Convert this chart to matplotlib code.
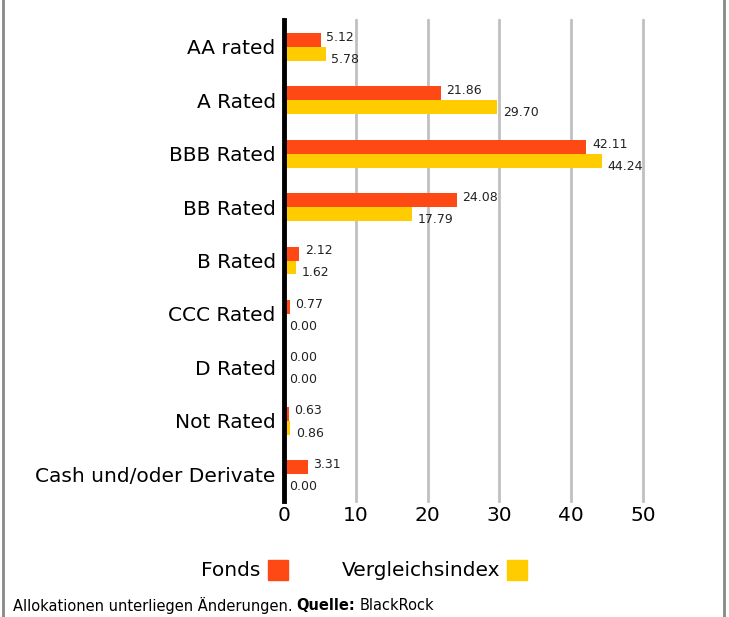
import matplotlib.pyplot as plt
from matplotlib.patches import Rectangle
from matplotlib.lines import Line2D
import numpy as np

# data
categories = ["AA rated", "A Rated", "BBB Rated", "BB Rated", "B Rated",
              "CCC Rated", "D Rated", "Not Rated", "Cash und/oder Derivate"]
fonds = [5.12, 21.86, 42.11, 24.08, 2.12, 0.77, 0.00, 0.63, 3.31]
index = [5.78, 29.70, 44.24, 17.79, 1.62, 0.00, 0.00, 0.86, 0.00]
ticks = [0, 10, 20, 30, 40, 50]

orange = "#FF4915"
yellow = "#FFCC00"

fig = plt.figure(figsize=(7.29, 6.17), dpi=100)
ax = fig.add_axes([284 / 729, 1 - 500.7 / 617, (643 - 284) / 729, (500.7 - 20.3) / 617])

y = np.arange(len(categories))
h = 0.26
ax.barh(y - h / 2, fonds, height=h, color=orange, zorder=3)
ax.barh(y + h / 2, index, height=h, color=yellow, zorder=3)

# value labels
for i in range(len(categories)):
    ax.annotate("%.2f" % fonds[i], (fonds[i], y[i] - h / 2), xytext=(4, 2),
                textcoords="offset points", ha="left", va="center", fontsize=9,
                color="#222222", annotation_clip=False)
    ax.annotate("%.2f" % index[i], (index[i], y[i] + h / 2), xytext=(4, -4),
                textcoords="offset points", ha="left", va="center", fontsize=9,
                color="#222222", annotation_clip=False)

ax.set_xlim(0, 50)
ax.set_ylim(len(categories) - 0.5, -0.5)
ax.set_yticks(y)
ax.set_yticklabels(categories, fontsize=14.5)
ax.set_xticks(ticks)
ax.set_xticklabels([str(t) for t in ticks], fontsize=14.5)
ax.tick_params(axis="both", length=0, pad=6)
ax.tick_params(axis="x", pad=4)

ax.grid(axis="x", color="#c0c0c0", linewidth=2, zorder=0)
for gl in ax.get_xgridlines():
    gl.set_clip_on(False)
for s in ["top", "right", "bottom"]:
    ax.spines[s].set_visible(False)
ax.spines["left"].set_linewidth(3.5)
ax.spines["left"].set_color("black")
ax.spines["left"].set_zorder(4)

# legend drawn by hand
fig.text(260 / 729, 1 - 571 / 617, "Fonds", ha="right", va="center", fontsize=14.5)
fig.patches.append(Rectangle((268 / 729, 1 - 580 / 617), 20 / 729, 20 / 617,
                             color=orange, transform=fig.transFigure))
fig.text(500 / 729, 1 - 571 / 617, "Vergleichsindex", ha="right", va="center", fontsize=14.5)
fig.patches.append(Rectangle((507 / 729, 1 - 580 / 617), 20 / 729, 20 / 617,
                             color=yellow, transform=fig.transFigure))

# footer: normal text, then bold "Quelle:", then normal again
renderer = fig.canvas.get_renderer()
x0 = 13 / 729
yf = 1 - 605 / 617
t1 = fig.text(x0, yf, "Allokationen unterliegen Änderungen.", ha="left", va="center", fontsize=10.5)
x1 = fig.transFigure.inverted().transform((t1.get_window_extent(renderer).x1 + 4, 0))[0]
t2 = fig.text(x1, yf, "Quelle:", ha="left", va="center", fontsize=10.5, fontweight="bold")
x2 = fig.transFigure.inverted().transform((t2.get_window_extent(renderer).x1 + 4, 0))[0]
fig.text(x2, yf, "BlackRock", ha="left", va="center", fontsize=10.5)

# frame lines
fig.lines.append(Line2D([3 / 729, 3 / 729], [0, 1], color="#888888", linewidth=2,
                        transform=fig.transFigure))
fig.lines.append(Line2D([724 / 729, 724 / 729], [0, 1], color="#888888", linewidth=2,
                        transform=fig.transFigure))

fig.savefig("out.png", dpi=100)
